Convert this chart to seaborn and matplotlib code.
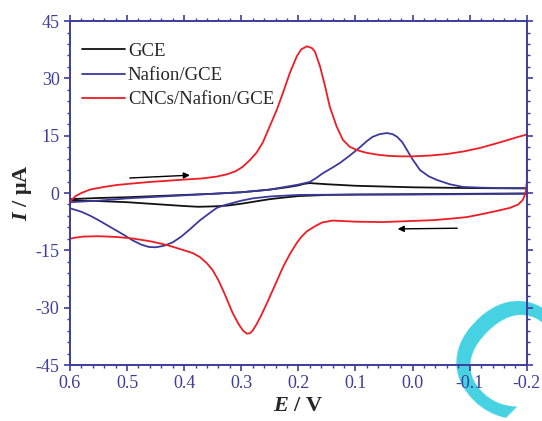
import numpy as np
import pandas as pd
import matplotlib
matplotlib.use("Agg")
import matplotlib.pyplot as plt
import seaborn as sns
from matplotlib.ticker import MultipleLocator, FixedLocator

# GCE (black), scanned 0.6 -> -0.2 -> 0.6
gce_e = [0.6, 0.55, 0.5, 0.45, 0.4, 0.35, 0.3, 0.27, 0.25, 0.22, 0.2, 0.19, 0.18, 0.17, 0.15,
         0.1, 0.05, 0.0, -0.1, -0.2,
         -0.2, -0.1, 0.0, 0.1, 0.15, 0.2, 0.22, 0.25, 0.275, 0.3, 0.325, 0.35, 0.375, 0.4,
         0.45, 0.5, 0.55, 0.6, 0.6]
gce_i = [-1.6, -1.3, -1.1, -0.8, -0.5, -0.2, 0.2, 0.6, 0.9, 1.5, 2.0, 2.4, 2.6, 2.5, 2.3,
         1.9, 1.7, 1.5, 1.3, 1.2,
         -0.1, -0.2, -0.3, -0.4, -0.5, -0.8, -1.1, -1.6, -2.2, -2.8, -3.3, -3.5, -3.6, -3.4,
         -2.9, -2.4, -2.1, -2.0, -1.6]

# Nafion/GCE (blue)
naf_e = [0.6, 0.55, 0.5, 0.45, 0.4, 0.35, 0.3, 0.25, 0.2, 0.18, 0.17, 0.157, 0.142, 0.127,
         0.11, 0.092, 0.08, 0.07, 0.058, 0.045, 0.035, 0.027, 0.018, 0.01, 0.0, -0.013,
         -0.028, -0.043, -0.065, -0.088, -0.12, -0.15, -0.2,
         -0.2, -0.1, 0.0, 0.1, 0.2, 0.25, 0.28, 0.3, 0.315, 0.33, 0.343, 0.355, 0.372, 0.39,
         0.405, 0.42, 0.435, 0.45, 0.462, 0.475, 0.49, 0.505, 0.52, 0.535, 0.55, 0.565,
         0.58, 0.595, 0.6, 0.6]
naf_i = [-2.4, -2.0, -1.4, -1.0, -0.6, -0.2, 0.2, 0.9, 2.2, 2.9, 3.8, 5.2, 6.5, 7.9,
         9.8, 12.0, 13.6, 14.7, 15.4, 15.7, 15.4, 14.7, 13.3, 11.3, 8.8, 6.0,
         4.4, 3.4, 2.3, 1.6, 1.4, 1.3, 1.3,
         -0.2, -0.3, -0.4, -0.4, -0.5, -0.9, -1.4, -2.0, -2.6, -3.2, -3.9, -5.2, -7.1, -9.5,
         -11.4, -12.9, -13.8, -14.2, -14.1, -13.5, -12.4, -11.0, -9.7, -8.4, -7.1, -5.9,
         -4.9, -4.2, -4.0, -2.4]

# CNCs/Nafion/GCE (red)
cnc_e = [0.6, 0.597, 0.59, 0.58, 0.565, 0.54, 0.518, 0.49, 0.46, 0.43, 0.402, 0.37, 0.343,
         0.325, 0.31, 0.298, 0.285, 0.273, 0.262, 0.25, 0.238, 0.227, 0.215, 0.203, 0.195,
         0.185, 0.176, 0.171, 0.162, 0.153, 0.145, 0.133, 0.122, 0.11, 0.097, 0.08, 0.06,
         0.04, 0.02, 0.0, -0.03, -0.06, -0.09, -0.118, -0.14, -0.165, -0.185, -0.2,
         -0.2, -0.198, -0.193, -0.185, -0.17, -0.153, -0.125, -0.095, -0.06, -0.036, 0.0,
         0.052, 0.1, 0.14, 0.158, 0.17, 0.185, 0.195, 0.203, 0.215, 0.227, 0.24, 0.255,
         0.265, 0.273, 0.28, 0.285, 0.29, 0.297, 0.305, 0.315, 0.332, 0.34, 0.35, 0.36,
         0.372, 0.385, 0.402, 0.43, 0.46, 0.49, 0.518, 0.55, 0.577, 0.592, 0.6, 0.6]
cnc_i = [-3.0, -1.8, -0.8, 0.0, 0.9, 1.6, 2.1, 2.5, 2.9, 3.2, 3.5, 3.8, 4.3,
         4.9, 5.7, 6.8, 8.6, 10.6, 13.3, 17.5, 21.7, 26.2, 31.4, 35.7, 37.6,
         38.4, 37.9, 37.0, 33.1, 27.8, 22.6, 17.4, 13.9, 12.1, 11.2, 10.5, 10.0,
         9.7, 9.6, 9.6, 9.8, 10.2, 10.9, 11.8, 12.7, 13.8, 14.7, 15.3,
         3.0, 0.0, -1.8, -3.0, -3.9, -4.5, -5.4, -6.3, -6.8, -7.1, -7.3,
         -7.6, -7.5, -7.2, -7.7, -8.6, -10.0, -11.5, -13.1, -16.0, -19.4, -23.8, -28.8,
         -32.0, -34.3, -36.0, -36.7, -36.8, -36.0, -34.2, -31.4, -25.4, -22.8, -20.2, -18.4,
         -16.8, -15.7, -14.9, -13.6, -12.6, -11.9, -11.5, -11.3, -11.4, -11.7, -12.0, -3.0]

labels = ["GCE", "Nafion/GCE", "CNCs/Nafion/GCE"]
colors = ["#111111", "#3a3a9e", "#ee1c24"]

x_ticks = [0.6, 0.5, 0.4, 0.3, 0.2, 0.1, 0.0, -0.1, -0.2]
x_tick_labels = ["0.6", "0.5", "0.4", "0.3", "0.2", "0.1", "0.0", "-0.1", "-0.2"]
y_ticks = [-45, -30, -15, 0, 15, 30, 45]

sns.set_style("ticks")
plt.rcParams["font.family"] = ["Liberation Serif", "DejaVu Serif"]
plt.rcParams["axes.unicode_minus"] = False
plt.rcParams["mathtext.fontset"] = "custom"
plt.rcParams["mathtext.it"] = "Liberation Serif:italic:bold"
plt.rcParams["mathtext.rm"] = "Liberation Serif:bold"

axis_blue = "#3d3d9c"

fig = plt.figure(figsize=(5.42, 4.21), dpi=100)

# watermark behind everything (partly off the page, as in the source image)
fig.text(0.975, 0.045, "CS", color="#45d2e2", fontsize=110, family="DejaVu Sans",
         rotation=-45, rotation_mode="anchor", ha="center", va="center", zorder=-5)

ax = fig.add_axes([0.129, 0.133, 0.843, 0.817])
ax.patch.set_alpha(0)

for e, i, lab, col in zip([gce_e, naf_e, cnc_e], [gce_i, naf_i, cnc_i], labels, colors):
    df = pd.DataFrame({"E": e, "I": i})
    sns.lineplot(data=df, x="E", y="I", sort=False, estimator=None, color=col,
                 linewidth=1.3, label=lab, ax=ax)

ax.set_xlim(0.6, -0.2)
ax.set_ylim(-45, 45)
ax.xaxis.set_major_locator(FixedLocator(x_ticks))
ax.set_xticklabels(x_tick_labels)
ax.xaxis.set_minor_locator(MultipleLocator(0.02))
ax.set_yticks(y_ticks)
ax.yaxis.set_minor_locator(MultipleLocator(3))

for s in ax.spines.values():
    s.set_color(axis_blue)
    s.set_linewidth(1.4)
ax.tick_params(which="both", direction="out", colors=axis_blue, top=True, right=True,
               labelsize=13, labelcolor=axis_blue)
ax.tick_params(which="major", length=4, width=1.2)
ax.tick_params(which="minor", length=2.5, width=1.0)

ax.set_xlabel(r"$E$ / V", fontsize=16, fontweight="bold", labelpad=2.5)
ax.set_ylabel(r"$I$ / μA", fontsize=16, fontweight="bold", labelpad=1)

leg = ax.legend(loc="upper left", frameon=False, fontsize=13.5, handlelength=2.3,
                handletextpad=0.16, labelspacing=0.38, borderaxespad=0, borderpad=0,
                bbox_to_anchor=(0.026, 0.937))

# scan direction arrows
ax.annotate("", xy=(0.385, 4.7), xytext=(0.5, 3.9),
            arrowprops=dict(arrowstyle="-|>", color="k", lw=1.0, mutation_scale=9))
ax.annotate("", xy=(0.031, -9.4), xytext=(-0.083, -9.2),
            arrowprops=dict(arrowstyle="-|>", color="k", lw=1.0, mutation_scale=9))

fig.savefig("out.png", dpi=100)
